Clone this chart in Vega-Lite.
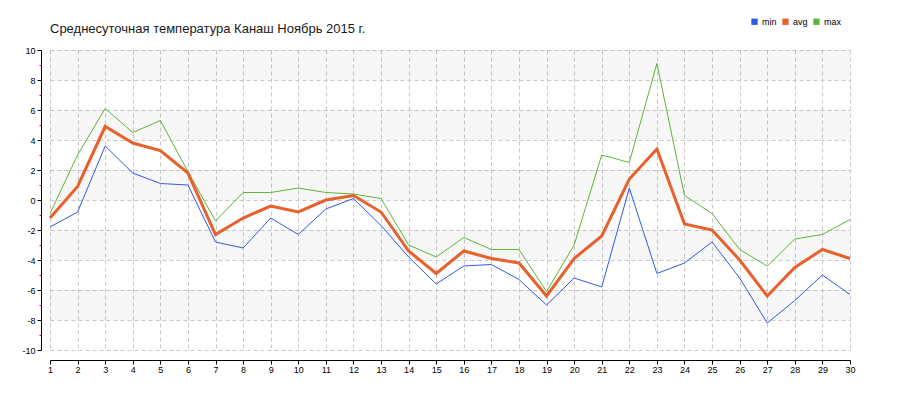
{
  "$schema": "https://vega.github.io/schema/vega-lite/v6.json",
  "width": 800,
  "height": 300,
  "autosize": "none",
  "padding": {"left": 50, "top": 50, "right": 50, "bottom": 50},
  "background": "white",
  "title": {"text": "Среднесуточная температура Канаш  Ноябрь 2015 г.", "anchor": "start", "frame": "group", "font": "Liberation Sans", "fontSize": 13, "fontWeight": "normal", "color": "#1a1a1a", "offset": 14, "dy": 33},
  "config": {
    "view": {"stroke": null},
    "axis": {"labelOverlap": false, "labelFont": "Liberation Sans", "labelFontSize": 9, "labelColor": "#000000", "domainColor": "#000000", "gridColor": "#c8c8c8", "gridDash": [4, 3], "title": null}
  },
  "datasets": {
    "bands": [
      {"t": 8, "hi": 10}, {"t": 4, "hi": 6}, {"t": 0, "hi": 2}, {"t": -4, "hi": -2}, {"t": -8, "hi": -6}
    ],
    "temps": [
      {"day": 1, "min": -1.8, "avg": -1.2, "max": -0.9},
      {"day": 2, "min": -0.8, "avg": 0.9, "max": 3.0},
      {"day": 3, "min": 3.6, "avg": 4.9, "max": 6.1},
      {"day": 4, "min": 1.8, "avg": 3.8, "max": 4.5},
      {"day": 5, "min": 1.1, "avg": 3.3, "max": 5.3},
      {"day": 6, "min": 1.0, "avg": 1.8, "max": 1.9},
      {"day": 7, "min": -2.8, "avg": -2.3, "max": -1.4},
      {"day": 8, "min": -3.2, "avg": -1.2, "max": 0.5},
      {"day": 9, "min": -1.2, "avg": -0.4, "max": 0.5},
      {"day": 10, "min": -2.3, "avg": -0.8, "max": 0.8},
      {"day": 11, "min": -0.6, "avg": 0.0, "max": 0.5},
      {"day": 12, "min": 0.1, "avg": 0.3, "max": 0.4},
      {"day": 13, "min": -1.7, "avg": -0.8, "max": 0.1},
      {"day": 14, "min": -3.8, "avg": -3.4, "max": -3.0},
      {"day": 15, "min": -5.6, "avg": -4.9, "max": -3.8},
      {"day": 16, "min": -4.4, "avg": -3.4, "max": -2.5},
      {"day": 17, "min": -4.3, "avg": -3.9, "max": -3.3},
      {"day": 18, "min": -5.3, "avg": -4.2, "max": -3.3},
      {"day": 19, "min": -7.0, "avg": -6.4, "max": -6.1},
      {"day": 20, "min": -5.2, "avg": -3.9, "max": -3.0},
      {"day": 21, "min": -5.8, "avg": -2.4, "max": 3.0},
      {"day": 22, "min": 0.8, "avg": 1.4, "max": 2.5},
      {"day": 23, "min": -4.9, "avg": 3.4, "max": 9.1},
      {"day": 24, "min": -4.2, "avg": -1.6, "max": 0.3},
      {"day": 25, "min": -2.8, "avg": -2.0, "max": -0.9},
      {"day": 26, "min": -5.2, "avg": -4.0, "max": -3.3},
      {"day": 27, "min": -8.2, "avg": -6.4, "max": -4.4},
      {"day": 28, "min": -6.7, "avg": -4.5, "max": -2.6},
      {"day": 29, "min": -5.0, "avg": -3.3, "max": -2.3},
      {"day": 30, "min": -6.3, "avg": -3.9, "max": -1.3}
    ]
  },
  "encoding": {
    "y": {
      "field": "t", "type": "quantitative",
      "scale": {"domain": [-10, 10], "nice": false, "zero": false},
      "axis": {
        "title": null,
        "values": [-10, -9, -8, -7, -6, -5, -4, -3, -2, -1, 0, 1, 2, 3, 4, 5, 6, 7, 8, 9, 10],
        "labelExpr": "datum.value % 2 === 0 ? replace(datum.label, '\u2212', '-') : ''",
        "labelOverlap": false,
        "labelPadding": 2,
        "offset": 9,
        "tickColor": {"condition": {"test": "datum.value % 2 !== 0", "value": "#e00000"}, "value": "#000000"},
        "tickSize": {"condition": {"test": "datum.value % 2 !== 0", "value": 2}, "value": 4},
        "grid": true,
        "gridOpacity": {"condition": {"test": "datum.value % 2 !== 0", "value": 0}, "value": 1}
      }
    }
  },
  "layer": [
    {
      "data": {"name": "bands"},
      "mark": {"type": "rect", "fill": "#000000", "opacity": 0.031},
      "encoding": {
        "y2": {"field": "hi"}
      }
    },
    {
      "data": {"name": "temps"},
      "transform": [{"fold": ["min", "avg", "max"], "as": ["series", "t"]}, {"filter": "datum.series !== 'avg'"}],
      "mark": {"type": "line", "strokeWidth": 1},
      "encoding": {
        "x": {
          "field": "day", "type": "quantitative",
          "scale": {"domain": [1, 30], "nice": false, "zero": false},
          "axis": {
            "title": null,
            "values": [1, 2, 3, 4, 5, 6, 7, 8, 9, 10, 11, 12, 13, 14, 15, 16, 17, 18, 19, 20, 21, 22, 23, 24, 25, 26, 27, 28, 29, 30],
            "labelPadding": 1,
            "labelOverlap": false, "labelFlush": false,
            "offset": 10,
            "tickColor": "#000000", "tickSize": 4,
            "grid": true
          }
        },
        "color": {
          "field": "series", "type": "nominal",
          "scale": {"domain": ["min", "avg", "max"], "range": ["#3358e6", "#e8602c", "#5cb536"]},
          "legend": {
            "title": null, "orient": "none", "direction": "horizontal",
            "legendX": 700, "legendY": -33,
            "symbolType": "square", "symbolSize": 40, "symbolStrokeWidth": 0,
            "labelFont": "Liberation Sans", "labelFontSize": 9, "labelColor": "#000000",
            "columnPadding": 4, "labelOffset": 3,
            "encode": {"symbols": {"update": {"fill": {"scale": "color", "field": "value"}, "opacity": {"value": 1}}}}
          }
        },
        "order": {"field": "day", "type": "quantitative"}
      }
    },
    {
      "data": {"name": "temps"},
      "transform": [{"fold": ["avg"], "as": ["series", "t"]}],
      "mark": {"type": "line", "strokeWidth": 3},
      "encoding": {
        "x": {
          "field": "day", "type": "quantitative",
          "scale": {"domain": [1, 30], "nice": false, "zero": false},
          "axis": {
            "title": null,
            "values": [1, 2, 3, 4, 5, 6, 7, 8, 9, 10, 11, 12, 13, 14, 15, 16, 17, 18, 19, 20, 21, 22, 23, 24, 25, 26, 27, 28, 29, 30],
            "labelPadding": 1,
            "labelOverlap": false, "labelFlush": false,
            "offset": 10,
            "tickColor": "#000000", "tickSize": 4,
            "grid": true
          }
        },
        "color": {"field": "series", "type": "nominal"},
        "order": {"field": "day", "type": "quantitative"}
      }
    }
  ]
}
